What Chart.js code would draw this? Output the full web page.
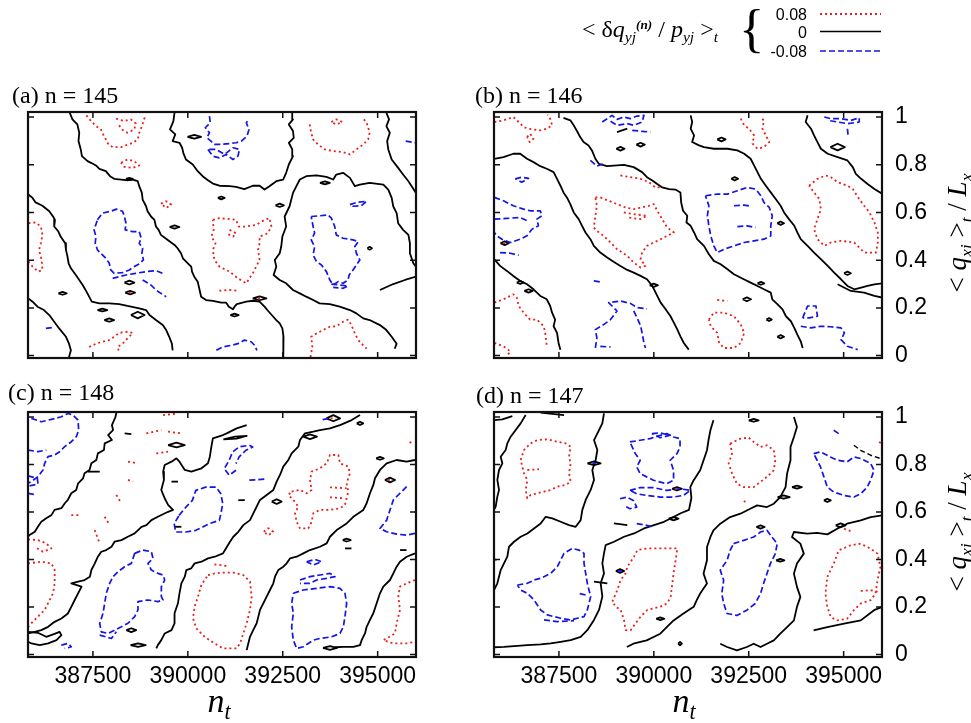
<!DOCTYPE html>
<html>
<head>
<meta charset="utf-8">
<title>contours</title>
<script src="https://cdn.jsdelivr.net/npm/chart.js@4.4.1/dist/chart.umd.min.js"></script>
<style>
html,body{margin:0;padding:0;background:#fff;}
body{position:relative;width:971px;height:723px;overflow:hidden;}
canvas{position:absolute;left:0;top:0;}
.t{position:absolute;white-space:nowrap;line-height:1;color:#000;}
.serif{font-family:"Liberation Serif","Times New Roman",serif;}
.sans{font-family:"Liberation Sans",Arial,sans-serif;}
.sb{font-size:0.65em;position:relative;top:0.32em;}
.sp{font-size:0.55em;position:relative;top:-0.6em;}
.rot{transform:translate(-50%,-50%) rotate(-90deg);}
</style>
</head>
<body>
<canvas id="pa" width="971" height="723"></canvas>
<canvas id="pb" width="971" height="723"></canvas>
<canvas id="pc" width="971" height="723"></canvas>
<canvas id="pd" width="971" height="723"></canvas>

<div class="t serif" style="left:12px;top:83px;font-size:24px">(a) n = 145</div>
<div class="t serif" style="left:475px;top:83px;font-size:24px">(b) n = 146</div>
<div class="t serif" style="left:8px;top:380px;font-size:24px">(c) n = 148</div>
<div class="t serif" style="left:476px;top:383px;font-size:24px">(d) n = 147</div>

<div class="t serif rot" style="left:957px;top:233px;font-size:27px">&lt; <i>q</i><span class="sb"><i>xj</i></span> &gt;<span class="sb"><i>t</i></span> / <i>L</i><span class="sb"><i>x</i></span></div>
<div class="t serif rot" style="left:957px;top:532px;font-size:27px">&lt; <i>q</i><span class="sb"><i>xj</i></span> &gt;<span class="sb"><i>t</i></span> / <i>L</i><span class="sb"><i>x</i></span></div>

<div class="t serif" style="left:219px;top:684px;font-size:34px;transform:translateX(-50%)"><i>n</i><span class="sb"><i>t</i></span></div>
<div class="t serif" style="left:684px;top:684px;font-size:34px;transform:translateX(-50%)"><i>n</i><span class="sb"><i>t</i></span></div>

<div class="t serif" style="left:582px;top:17px;font-size:24px">&lt; δ<i>q</i><span class="sb"><i>yj</i></span><span class="sp"><b><i>(n)</i></b></span> / <i>p</i><span class="sb"><i>yj</i></span> &gt;<span class="sb"><i>t</i></span></div>
<div class="t serif" style="left:739px;top:2px;font-size:53px">{</div>
<div class="t sans" id="lv0" style="right:164px;top:7px;font-size:16px;text-align:right"></div>
<div class="t sans" id="lv1" style="right:164px;top:25px;font-size:16px;text-align:right"></div>
<div class="t sans" id="lv2" style="right:164px;top:44px;font-size:16px;text-align:right"></div>
<svg style="position:absolute;left:820px;top:0px" width="62" height="60">
  <line x1="0" y1="14" x2="61" y2="14" stroke="#e8201c" stroke-width="1.8" stroke-dasharray="2 3"/>
  <line x1="0" y1="31.5" x2="61" y2="31.5" stroke="#000" stroke-width="1.7"/>
  <line x1="0" y1="51" x2="61" y2="51" stroke="#1414e6" stroke-width="1.6" stroke-dasharray="6 3"/>
</svg>

<script>
// ---------------- axis ticks ----------------
const xTicks = [387500, 390000, 392500, 395000];
const yTicks = [0, 0.2, 0.4, 0.6, 0.8, 1];
const levelLabels = ['0.08', '0', '-0.08'];

// ---------------- panel (a) n = 145 ----------------
const a_zero = [
 [[386890,1.018],[386960,.990],[387090,.969],[387140,.934],[387120,.899],[387180,.864],[387210,.836],[387360,.815],[387450,.808],[387580,.797],[387670,.783],[387840,.773],[387950,.752],[388060,.741],[388240,.738],[388410,.735],[388550,.738],[388680,.731],[388720,.710],[388790,.682],[388810,.654],[388900,.626],[388940,.605],[389030,.583],[389120,.569],[389160,.541],[389230,.527],[389290,.506],[389410,.492],[389560,.474],[389650,.464],[389730,.450],[389820,.429],[389870,.408],[390000,.387],[390090,.373],[390110,.352],[390170,.331],[390260,.310],[390310,.275],[390350,.247],[390480,.233],[390660,.229],[390880,.222],[391010,.222],[391080,.205],[391190,.194],[391230,.205],[391290,.216],[391540,.226],[391710,.230],[391890,.226],[392020,.205],[392110,.188],[392240,.165],[392330,.149],[392420,.135],[392490,.114],[392520,.079],[392510,.036],[392520,-.006]],
 [[389650,1.018],[389620,.983],[389530,.948],[389670,.927],[389600,.899],[389780,.892],[389850,.871],[389880,.850],[389950,.822],[390130,.801],[390260,.773],[390390,.752],[390530,.735],[390660,.721],[390830,.712],[391100,.710],[391270,.707],[391490,.698],[391710,.712],[391890,.712],[392020,.696],[392150,.710],[392330,.731],[392510,.738],[392590,.766],[392660,.801],[392770,.836],[392750,.864],[392660,.892],[392790,.913],[392770,.941],[392660,.969],[392770,.990],[392750,1.018]],
 [[385800,.675],[385910,.661],[385990,.642],[386170,.628],[386350,.605],[386450,.583],[386500,.569],[386480,.541],[386590,.520],[386650,.499],[386770,.471],[386790,.443],[386830,.415],[386860,.387],[386920,.366],[387050,.338],[387140,.317],[387230,.296],[387330,.268],[387400,.247],[387470,.226],[387670,.219],[387930,.219],[388190,.216],[388410,.208],[388720,.198],[388900,.191],[388990,.170],[389160,.149],[389340,.128],[389430,.107],[389510,.079],[389580,.050],[389600,.022]],
 [[385800,.240],[385910,.226],[386040,.205],[386210,.191],[386350,.170],[386480,.142],[386610,.114],[386790,.079],[386870,.050],[386920,.022],[386870,-.006]],
 [[396010,.373],[395940,.387],[395850,.429],[395850,.471],[395810,.506],[395670,.527],[395540,.555],[395500,.597],[395410,.626],[395370,.661],[395280,.696],[395150,.717],[394790,.724],[394530,.717],[394400,.710],[394270,.745],[394090,.766],[393910,.759],[393830,.738],[393650,.749],[393390,.755],[393120,.752],[392950,.738],[392860,.710],[392770,.682],[392680,.626],[392550,.583],[392590,.541],[392490,.499],[392460,.457],[392420,.429],[392290,.401],[392330,.373],[392260,.338],[392420,.317],[392590,.303],[392770,.275],[392950,.261],[393120,.247],[393300,.233],[393470,.219],[393740,.216],[394000,.205],[394270,.191],[394440,.177],[394620,.156],[394790,.149],[395060,.128],[395230,.107],[395370,.079],[395500,.050],[395450,.029]],
 [[395230,1.018],[395300,.990],[395230,.962],[395320,.934],[395250,.899],[395280,.864],[395370,.822],[395540,.787],[395670,.759],[395810,.731],[396010,.682]],
 [[395060,.275],[395410,.300],[395720,.317],[396010,.331]],
 [[389990,.917],[390170,.925],[390350,.917],[390170,.909],[389990,.917]],
 [[390790,.661],[390880,.667],[390970,.661],[390880,.655],[390790,.661]],
 [[392310,.630],[392420,.637],[392530,.630],[392420,.623],[392310,.630]],
 [[389520,.539],[389650,.546],[389780,.539],[389650,.532],[389520,.539]],
 [[386590,.261],[386700,.267],[386810,.261],[386700,.255],[386590,.261]],
 [[388350,.264],[388480,.271],[388610,.264],[388480,.257],[388350,.264]],
 [[388330,.306],[388460,.314],[388590,.306],[388460,.298],[388330,.306]],
 [[387620,.191],[387750,.197],[387880,.191],[387750,.185],[387620,.191]],
 [[387800,.149],[387930,.156],[388060,.149],[387930,.142],[387800,.149]],
 [[388500,.170],[388680,.184],[388860,.170],[388680,.156],[388500,.170]],
 [[391710,.240],[391890,.248],[392070,.240],[391890,.232],[391710,.240]],
 [[391120,.170],[391230,.176],[391340,.170],[391230,.164],[391120,.170]],
 [[394730,.450],[394790,.456],[394850,.450],[394790,.444],[394730,.450]],
 [[393480,.724],[393610,.730],[393740,.724],[393610,.718],[393480,.724]],
 [[388370,.741],[388460,.745],[388550,.741],[388460,.737],[388370,.741]]
];
const a_pos = [
 [[387330,1.007],[387450,.983],[387580,.962],[387710,.948],[387770,.927],[387840,.906],[387910,.885],[388020,.874],[388240,.874],[388410,.884],[388550,.892],[388680,.906],[388720,.934],[388790,.962],[388860,.997],[388830,1.007]],
 [[388110,.993],[388330,.983],[388500,.990],[388630,.973],[388590,.948],[388410,.934],[388260,.948],[388190,.965]],
 [[388240,.808],[388410,.822],[388590,.815],[388720,.797],[388550,.787],[388330,.791],[388240,.808]],
 [[385800,.555],[385990,.558],[386130,.541],[386170,.506],[386130,.471],[386080,.443],[386150,.401],[386170,.359],[386060,.352],[385910,.373],[385800,.394]],
 [[390660,.569],[390830,.576],[391100,.572],[391270,.569],[391340,.541],[391540,.541],[391800,.548],[392020,.569],[392150,.576],[392200,.541],[392110,.513],[391890,.499],[391890,.471],[391850,.443],[391890,.401],[391800,.373],[391710,.345],[391540,.303],[391320,.324],[391100,.352],[390830,.373],[390700,.401],[390660,.443],[390730,.471],[390620,.499],[390680,.527],[390660,.569]],
 [[391100,.527],[391270,.513],[391190,.499],[391050,.510]],
 [[393210,.969],[393250,.934],[393300,.906],[393430,.885],[393610,.864],[393830,.857],[394090,.853],[394270,.843],[394440,.864],[394620,.885],[394750,.906],[394790,.934],[394710,.976],[394600,.997]],
 [[393780,.979],[393910,.990],[394070,.979],[393910,.969],[393780,.979]],
 [[393230,-.006],[393280,.036],[393250,.079],[393390,.093],[393560,.107],[393740,.121],[393910,.123],[394090,.142],[394220,.151],[394310,.128],[394400,.093],[394490,.065],[394620,.043],[394710,.029]],
 [[387400,.036],[387580,.050],[387750,.058],[387930,.065],[388060,.079],[388190,.095],[388410,.100],[388550,.095],[388410,.072],[388280,.050],[388150,.036],[388190,.015]],
 [[389290,.637],[389430,.647],[389560,.633],[389430,.619],[389290,.637]],
 [[390830,.272],[391100,.275],[391290,.272]],
 [[388440,.264],[388520,.264]],
 [[391850,.240],[391930,.240]]
];
const a_neg = [
 [[390570,1.004],[390590,.976],[390460,.955],[390570,.934],[390500,.913],[390610,.899],[390700,.885],[390880,.885],[391100,.889],[391270,.892],[391410,.899],[391560,.920],[391610,.948],[391540,.976],[391610,.990]],
 [[390530,.864],[390660,.836],[390830,.829],[391010,.843],[391190,.822],[391320,.836],[391360,.864],[391190,.871],[390970,.843],[390750,.864],[390530,.864]],
 [[387620,.569],[387750,.597],[387970,.605],[388120,.614],[388280,.605],[388330,.583],[388370,.555],[388350,.527],[388530,.520],[388720,.520],[388770,.492],[388720,.471],[388810,.450],[388790,.429],[388830,.401],[388720,.384],[388590,.373],[388460,.359],[388280,.348],[388060,.345],[387970,.359],[387930,.387],[387840,.408],[387750,.422],[387620,.443],[387560,.471],[387580,.499],[387530,.527],[387620,.569]],
 [[388020,.324],[388370,.338],[388630,.345],[388900,.352],[389160,.356],[389340,.345]],
 [[388810,.317],[389030,.296],[389160,.275],[389290,.261],[389430,.247]],
 [[393250,.583],[393470,.586],[393690,.590],[393780,.576],[393870,.541],[393910,.506],[394090,.492],[394350,.485],[394490,.478],[394400,.457],[394440,.429],[394530,.401],[394440,.380],[394350,.359],[394250,.338],[394220,.317],[394090,.303],[393960,.310],[393830,.296],[393740,.317],[393650,.352],[393520,.380],[393390,.394],[393300,.422],[393340,.457],[393250,.485],[393340,.513],[393300,.541],[393250,.583]],
 [[393780,.300],[394000,.296],[394220,.292],[394090,.282],[393830,.286]],
 [[390750,.022],[390920,.036],[391140,.043],[391320,.050],[391490,.065],[391670,.058],[391760,.043],[391820,.022]],
 [[394270,.633],[394440,.642],[394710,.647],[394570,.628],[394350,.626],[394270,.633]],
 [[386260,.114],[386430,.118]],
 [[395740,.899],[396010,.892]]
];

// ---------------- panel (b) n = 146 ----------------
const b_zero = [
 [[387620,.996],[387800,.986],[387890,.965],[387990,.937],[388060,.916],[388150,.895],[388280,.881],[388370,.860],[388460,.825],[388550,.804],[388770,.794],[389210,.799],[389470,.790],[389690,.769],[389820,.748],[389960,.734],[390090,.719],[390220,.705],[390400,.698],[390570,.696],[390700,.684],[390720,.642],[390770,.607],[390880,.586],[390860,.558],[390970,.544],[391060,.516],[391140,.488],[391320,.460],[391450,.425],[391580,.397],[391760,.383],[391940,.362],[392110,.341],[392330,.323],[392550,.306],[392730,.292],[392900,.278],[393080,.264],[393120,.236],[393260,.215],[393390,.194],[393480,.165],[393610,.144],[393700,.116],[393780,.088],[393870,.060],[393920,.032]],
 [[385800,.825],[386040,.832],[386300,.846],[386480,.846],[386660,.825],[386830,.811],[387010,.794],[387180,.783],[387360,.769],[387450,.741],[387540,.712],[387620,.684],[387710,.663],[387800,.635],[387890,.600],[388020,.572],[388110,.544],[388200,.516],[388330,.488],[388420,.460],[388590,.432],[388770,.411],[388940,.393],[389120,.376],[389300,.359],[389470,.348],[389650,.334],[389820,.320],[389960,.292],[390090,.250],[390180,.222],[390310,.194],[390440,.165],[390530,.137],[390620,.109],[390700,.081],[390790,.053],[390920,.025]],
 [[385800,.404],[385950,.376],[386130,.355],[386300,.334],[386480,.313],[386660,.299],[386830,.278],[387010,.250],[387180,.236],[387270,.208],[387320,.180],[387400,.151],[387360,.123],[387450,.095],[387490,.053],[387540,.025]],
 [[390970,1.007],[391010,.979],[390970,.951],[391060,.923],[391010,.895],[391190,.881],[391320,.874],[391580,.867],[391940,.867],[392200,.860],[392380,.846],[392550,.825],[392640,.797],[392730,.769],[392820,.741],[392950,.712],[393080,.684],[393210,.656],[393340,.628],[393430,.600],[393560,.572],[393700,.544],[393780,.516],[393870,.488],[394050,.460],[394220,.432],[394400,.404],[394580,.376],[394750,.348],[394930,.320],[395100,.292],[395280,.278],[395460,.285],[395630,.292],[395810,.299],[396030,.303]],
 [[394050,1.007],[394000,.979],[394140,.951],[394220,.923],[394310,.895],[394400,.867],[394580,.846],[394840,.832],[395100,.818],[395240,.790],[395320,.762],[395460,.741],[395630,.719],[395810,.698],[396030,.677]],
 [[394840,.299],[395190,.271],[395540,.264],[395810,.250],[396030,.243]],
 [[389030,.937],[389300,.951]],
 [[389010,.867],[389120,.875],[389230,.867],[389120,.859],[389010,.867]],
 [[389540,.884],[389650,.892],[389760,.884],[389650,.876],[389540,.884]],
 [[391670,.906],[391780,.914],[391890,.906],[391780,.898],[391670,.906]],
 [[392040,.741],[392130,.748],[392220,.741],[392130,.734],[392040,.741]],
 [[394650,.874],[394840,.888],[395030,.874],[394840,.860],[394650,.874]],
 [[385960,.471],[386070,.479],[386180,.471],[386070,.463],[385960,.471]],
 [[386590,.271],[386700,.278],[386810,.271],[386700,.264],[386590,.271]],
 [[386390,.306],[386480,.312],[386570,.306],[386480,.300],[386390,.306]],
 [[389890,.295],[390000,.302],[390110,.295],[390000,.288],[389890,.295]],
 [[392340,.236],[392450,.244],[392560,.236],[392450,.228],[392340,.236]],
 [[392730,.303],[392820,.309],[392910,.303],[392820,.297],[392730,.303]],
 [[393250,.555],[393340,.562],[393430,.555],[393340,.548],[393250,.555]],
 [[395010,.345],[395100,.352],[395190,.345],[395100,.338],[395010,.345]],
 [[393250,.079],[393340,.086],[393430,.079],[393340,.072],[393250,.079]],
 [[392965,.151],[393035,.157],[393105,.151],[393035,.145],[392965,.151]]
];
const b_pos = [
 [[385800,.979],[386040,.986],[386300,1.000],[386440,.979],[386570,.958],[386700,.951],[387000,.944],[387180,.951],[387320,.965],[387270,.993],[387200,1.010]],
 [[386660,.916],[386740,.930],[386830,.909],[386730,.895],[386660,.916]],
 [[388460,.663],[388590,.663],[388810,.649],[389030,.635],[389250,.621],[389470,.614],[389690,.621],[389870,.628],[390000,.635],[390090,.607],[390220,.572],[390350,.537],[390530,.516],[390350,.502],[390180,.488],[390000,.474],[389820,.460],[389690,.432],[389650,.404],[389780,.376],[389650,.369],[389470,.390],[389300,.418],[389030,.446],[388860,.474],[388680,.502],[388500,.523],[388420,.537],[388460,.586],[388500,.628],[388460,.663]],
 [[389120,.755],[389380,.748],[389650,.741],[389870,.727],[390040,.705],[390180,.705]],
 [[389210,.600],[389470,.593],[389820,.586],[389650,.572],[389300,.579]],
 [[392290,.993],[392380,.965],[392510,.951],[392640,.923],[392600,.888],[392730,.867],[392900,.874],[393040,.895],[392950,.923],[392860,.951],[392900,.986],[392820,.996]],
 [[394090,.712],[394310,.741],[394530,.755],[394660,.748],[394840,.727],[395100,.712],[395240,.698],[395410,.656],[395540,.628],[395680,.600],[395810,.558],[395900,.516],[395900,.474],[395850,.432],[395540,.432],[395280,.474],[394930,.481],[394660,.474],[394490,.460],[394310,.488],[394220,.530],[394310,.572],[394400,.614],[394360,.656],[394220,.684],[394090,.712]],
 [[385800,.222],[386040,.236],[386300,.257],[386390,.243],[386440,.208],[386570,.180],[386740,.151],[386920,.151],[387100,.123],[387140,.095],[387180,.039]],
 [[385800,.053],[386040,.039],[386220,.018],[386130,-.003]],
 [[391450,.151],[391580,.180],[391850,.180],[392110,.165],[392290,.130],[392380,.095],[392290,.053],[392110,.032],[391850,.032],[391720,.053],[391670,.095],[391500,.123],[391450,.151]],
 [[391670,.233],[391940,.229]],
 [[386030,.471],[386110,.471]]
];
const b_neg = [
 [[388640,.979],[388770,.993],[388900,1.007],[389030,.990],[389210,1.000],[389380,.993],[389560,1.004],[389740,1.007],[389690,.979],[389470,.965],[389300,.972],[389030,.965],[388860,.982]],
 [[389430,.944],[389690,.940],[389910,.937]],
 [[388330,.818],[388500,.794],[388680,.804]],
 [[385800,.663],[386040,.649],[386300,.628],[386570,.614],[386740,.607],[387010,.607],[387050,.586],[386920,.572],[386960,.544],[386790,.530],[386660,.502],[386480,.488],[386220,.474],[386000,.488],[385860,.502],[385800,.516]],
 [[385950,.432],[386220,.429],[386440,.421]],
 [[385800,.572],[386130,.575],[386480,.579],[386660,.565]],
 [[386350,.741],[386520,.748],[386700,.743],[386520,.727],[386350,.741]],
 [[391360,.670],[391670,.677],[391940,.677],[392200,.691],[392460,.705],[392680,.698],[392820,.670],[392900,.642],[393040,.621],[393120,.586],[393080,.544],[393080,.502],[392900,.488],[392640,.481],[392380,.474],[392110,.460],[391850,.446],[391670,.432],[391580,.460],[391500,.502],[391450,.544],[391410,.586],[391450,.628],[391360,.670]],
 [[392110,.628],[392380,.631],[392550,.626]],
 [[392200,.541],[392460,.544],[392680,.537]],
 [[388460,.032],[388500,.074],[388460,.109],[388680,.130],[388860,.151],[389030,.187],[388900,.208],[388810,.222],[389120,.229],[389380,.219],[389560,.201],[389820,.196]],
 [[389470,.187],[389560,.158],[389650,.126],[389690,.095],[389740,.053],[389780,.032]],
 [[388590,.039],[388860,.036]],
 [[393870,.123],[394140,.116],[394400,.123],[394660,.121],[394930,.116],[395020,.095],[394930,.067],[395100,.039],[395370,.025]],
 [[393920,.158],[394050,.208],[394270,.208],[394310,.165],[394090,.158],[393920,.158]],
 [[394490,1.000],[394660,.993],[394930,.993],[395190,.986],[395410,.996],[395410,.979],[395100,.972],[394840,.979],[394580,.986]],
 [[395100,.951],[395120,.916]],
 [[388420,.313],[388590,.309]]
];

// ---------------- panel (c) n = 148 ----------------
const c_zero = [
 [[388120,1.020],[388090,.998],[388000,.966],[388030,.945],[387900,.924],[388000,.903],[387810,.889],[387790,.861],[387630,.847],[387590,.819],[387460,.805],[387410,.777],[387280,.763],[387240,.742],[387110,.721],[387060,.693],[386930,.679],[386840,.651],[386760,.637],[386670,.616],[386490,.609],[386410,.588],[386270,.574],[386140,.559],[386050,.538],[385970,.517],[385830,.503],[385790,.496]],
 [[391550,.966],[391286,.952],[391023,.931],[390926,.924],[390660,.910],[390620,.875],[390580,.833],[390530,.805],[390360,.784],[390090,.770],[389920,.777],[389780,.812],[389700,.826],[389570,.812],[389390,.798],[389350,.770],[389370,.735],[389300,.693],[389390,.658],[389480,.630],[389610,.609],[389480,.601],[389210,.580],[389040,.566],[388910,.545],[388780,.538],[388600,.510],[388420,.496],[388250,.482],[388070,.475],[387990,.454],[387850,.440],[387720,.433],[387630,.412],[387550,.384],[387460,.356],[387420,.328],[387280,.314],[387110,.307],[386930,.300],[387200,.286],[387110,.258],[387020,.230],[386930,.201],[386840,.173],[386670,.152],[386490,.138],[386320,.117],[386140,.103],[385970,.096],[385790,.089]],
 [[394535,1.008],[394315,.987],[394008,.966],[393744,.952],[393481,.945],[393305,.938],[393086,.931],[392954,.903],[392910,.875],[392735,.847],[392647,.819],[392515,.791],[392427,.756],[392340,.728],[392252,.693],[392076,.672],[391900,.651],[391813,.623],[391725,.594],[391637,.566],[391462,.545],[391330,.517],[391198,.496],[391110,.475],[390979,.440],[390926,.426],[390710,.412],[390530,.405],[390360,.391],[390180,.384],[390090,.363],[389960,.356],[389920,.328],[389830,.300],[389780,.258],[389740,.216],[389650,.174],[389650,.131],[389570,.103],[389390,.089],[389300,.061],[389210,.040],[389170,.026]],
 [[395983,.819],[395764,.812],[395500,.819],[395237,.805],[395061,.777],[394930,.742],[394886,.714],[394798,.679],[394710,.637],[394622,.609],[394359,.580],[394183,.552],[393920,.524],[393744,.496],[393657,.468],[393481,.454],[393217,.440],[393042,.426],[392866,.412],[392691,.405],[392603,.384],[392515,.370],[392383,.356],[392296,.328],[392252,.300],[392164,.272],[392076,.244],[391988,.216],[391901,.188],[391857,.160],[391813,.132],[391725,.104],[391637,.075],[391593,.047],[391550,.019]],
 [[395983,.426],[395764,.412],[395588,.391],[395500,.370],[395413,.342],[395325,.314],[395149,.286],[395061,.258],[394974,.216],[394886,.174],[394798,.146],[394710,.117],[394666,.089],[394579,.061],[394535,.040],[394359,.033],[394096,.033],[393876,.031]],
 [[385790,.096],[386050,.092],[386270,.075],[386490,.087],[386620,.096],[386670,.082],[386540,.061],[386320,.047],[386100,.040],[385880,.047],[385790,.054]],
 [[390935,.906],[391242,.917],[391550,.920],[391286,.909],[390935,.906]],
 [[389480,.882],[389700,.892],[389920,.882],[389700,.872],[389480,.882]],
 [[387370,.770],[387680,.770]],
 [[389570,.728],[389740,.728]],
 [[389650,.538],[389830,.538]],
 [[388336,.931],[388512,.928]],
 [[388380,.103],[388510,.111],[388640,.103],[388510,.095],[388380,.103]],
 [[388490,.040],[388690,.047],[388890,.040],[388690,.033],[388490,.040]],
 [[393040,.917],[393217,.927],[393400,.917],[393217,.907],[393040,.917]],
 [[394450,.973],[394535,.980],[394620,.973],[394535,.966],[394450,.973]],
 [[393650,.994],[393832,1.008],[394010,.994],[393832,.982],[393650,.994]],
 [[392210,.644],[392340,.654],[392470,.644],[392340,.634],[392210,.644]],
 [[391330,.650],[391500,.650]],
 [[394080,.482],[394183,.488],[394290,.482],[394183,.476],[394080,.482]],
 [[394140,.447],[394310,.447]],
 [[395590,.440],[395760,.440]],
 [[394960,.826],[395061,.832],[395160,.826],[395061,.820],[394960,.826]],
 [[395190,.735],[395325,.745],[395460,.735],[395325,.725],[395190,.735]],
 [[393560,.028],[393744,.036],[393930,.028],[393744,.020],[393560,.028]]
];
const c_pos = [
 [[385790,.485],[386053,.482],[386273,.468],[386405,.447],[386185,.433],[385966,.454]],
 [[385790,.384],[386141,.391],[386405,.384],[386492,.356],[386492,.300],[386449,.258],[386317,.216],[386229,.188],[386053,.160],[385878,.132],[385790,.117]],
 [[390531,.335],[390707,.342],[390926,.345],[391198,.345],[391462,.335],[391637,.307],[391681,.244],[391637,.188],[391549,.132],[391462,.089],[391374,.047],[391286,.026],[391023,.026],[390926,.026],[390707,.047],[390443,.075],[390224,.110],[390136,.153],[390180,.202],[390268,.244],[390356,.293],[390531,.335]],
 [[390700,.380],[390900,.376],[391050,.372]],
 [[392735,.686],[392954,.693],[393130,.679],[393261,.693],[393217,.735],[393261,.770],[393481,.784],[393657,.805],[393744,.840],[393964,.840],[394008,.805],[394227,.791],[394271,.763],[394183,.721],[394227,.686],[394183,.658],[394139,.630],[394008,.616],[393744,.609],[393481,.609],[393305,.595],[393261,.559],[393174,.531],[392954,.531],[392866,.559],[392823,.595],[392910,.623],[392779,.651],[392647,.672],[392735,.686]],
 [[393744,.704],[394183,.700]],
 [[393744,.662],[394096,.658]],
 [[392000,.517],[392120,.532],[392250,.517],[392120,.502],[392000,.517]],
 [[395983,.314],[395764,.300],[395588,.286],[395544,.244],[395588,.188],[395500,.132],[395456,.089],[395237,.068],[395149,.061],[395413,.047],[395764,.047],[395983,.054]],
 [[389346,1.008],[389741,1.015]],
 [[388907,.931],[389302,.945]],
 [[389478,.938],[389829,.931]],
 [[388424,.812],[388687,.805]],
 [[389170,.847],[389478,.854]],
 [[388424,.735],[388556,.728]],
 [[388117,.672],[388248,.637]],
 [[386931,.587],[387195,.587]],
 [[387809,.580],[387941,.545]],
 [[387546,.524],[387678,.468]],
 [[395270,.735],[395380,.735]],
 [[393760,.994],[393900,.994]],
 [[395840,.895],[395930,.888]]
];
const c_neg = [
 [[385878,.994],[386141,.980],[386405,.990],[386668,1.001],[386844,1.015],[386975,1.008],[387107,.987],[387125,.945],[387063,.917],[386931,.896],[386756,.875],[386624,.854],[386492,.840],[386317,.833],[386229,.805],[386185,.777],[386053,.749],[385878,.728],[385790,.721]],
 [[385790,.861],[386053,.854],[386273,.861]],
 [[385790,.752],[386036,.742],[386053,.718],[385790,.709]],
 [[385790,.679],[386010,.672]],
 [[389770,.586],[389950,.621],[390120,.649],[390210,.691],[390470,.705],[390740,.705],[390870,.677],[390920,.635],[390870,.593],[390830,.565],[390560,.551],[390390,.537],[390210,.523],[389950,.516],[389680,.516],[389640,.551],[389770,.586]],
 [[391270,.776],[391090,.755],[390960,.783],[391090,.818],[391180,.853],[391350,.874],[391620,.881],[391710,.874],[391530,.860],[391350,.832],[391270,.804]],
 [[388600,.426],[388819,.440],[389039,.433],[389083,.405],[388951,.384],[389039,.356],[389214,.342],[389346,.335],[389390,.314],[389302,.286],[389302,.244],[389346,.230],[389214,.223],[388951,.230],[388687,.223],[388687,.188],[388600,.160],[388424,.132],[388248,.117],[388073,.103],[387897,.089],[387722,.096],[387678,.131],[387766,.174],[387809,.216],[387853,.258],[387941,.300],[388029,.328],[388161,.349],[388336,.370],[388512,.384],[388600,.426]],
 [[387678,.082],[387985,.068],[388117,.096]],
 [[386668,.040],[386844,.047],[386931,.033],[386756,.026]],
 [[392779,.258],[393042,.272],[393393,.279],[393744,.286],[394008,.279],[394139,.258],[394183,.216],[394139,.160],[394096,.117],[394008,.089],[393788,.075],[393481,.068],[393305,.061],[393042,.033],[392866,.026],[392779,.061],[392735,.117],[392779,.174],[392735,.216],[392779,.258]],
 [[392954,.314],[393217,.328],[393481,.335],[393744,.342],[393876,.328],[393657,.321],[393393,.314],[393217,.300],[392954,.300]],
 [[393130,.391],[393349,.401],[393525,.391],[393305,.377],[393130,.391]],
 [[395764,.707],[395588,.679],[395413,.651],[395325,.609],[395237,.566],[395061,.531],[395237,.517],[395500,.507],[395764,.503],[395983,.510]],
 [[391620,.734],[391840,.736],[392060,.739]],
 [[393550,.989],[393690,.993]]
];

// ---------------- panel (d) n = 147 ----------------
const d_zero = [
 [[386624,1.008],[386492,.973],[386361,.945],[386229,.917],[386141,.889],[386097,.861],[385966,.833],[386010,.805],[385922,.777],[385878,.735],[385922,.693],[385878,.665],[385834,.623],[385790,.609]],
 [[385790,.987],[386010,.990],[386273,1.004]],
 [[387019,1.018],[387634,1.008]],
 [[388687,1.015],[388643,.973],[388556,.945],[388424,.903],[388512,.861],[388468,.819],[388380,.777],[388424,.735],[388336,.693],[388205,.651],[388117,.609],[388073,.566],[387941,.538],[387766,.545],[387546,.559],[387327,.573],[387151,.580],[387019,.552],[386844,.531],[386668,.510],[386492,.496],[386317,.475],[386185,.454],[386141,.412],[386053,.384],[385966,.356],[385878,.300],[385790,.272]],
 [[391570,.986],[391490,.944],[391440,.902],[391400,.860],[391310,.818],[391220,.776],[391050,.734],[390960,.705],[390990,.660],[390926,.609],[390707,.595],[390531,.580],[390268,.559],[390004,.545],[389741,.531],[389478,.510],[389214,.496],[388951,.475],[388731,.461],[388687,.426],[388644,.384],[388687,.342],[388600,.300],[388644,.244],[388556,.188],[388424,.146],[388248,.103],[388073,.075],[387809,.061],[387546,.054],[387283,.047],[387019,.043],[386668,.040],[386317,.036],[386053,.033],[385790,.031]],
 [[393690,1.000],[393770,.958],[393690,.916],[393600,.874],[393600,.818],[393510,.762],[393470,.705],[393330,.663],[393160,.635],[392980,.621],[392720,.628],[392540,.614],[392280,.593],[392010,.579],[391750,.551],[391570,.523],[391490,.495],[391400,.453],[391400,.397],[391310,.341],[391400,.299],[391220,.257],[391130,.229],[391050,.201],[390780,.173],[390520,.144],[390340,.116],[390170,.088],[389810,.060],[389460,.046],[389290,.032]],
 [[396020,.586],[395710,.579],[395450,.565],[395090,.551],[394830,.530],[394570,.506],[394300,.512],[394040,.509],[393690,.516],[393640,.495],[393860,.467],[393950,.425],[393770,.383],[393690,.341],[393770,.285],[393860,.243],[393770,.201],[393690,.144],[393510,.116],[393330,.088],[393160,.060],[392980,.046],[392810,.032],[392630,.046],[392450,.032],[392190,.018],[391930,.032],[391750,.046]],
 [[394210,.102],[394570,.116],[395010,.130],[395450,.144],[395800,.187],[396020,.201]],
 [[389000,.352],[389110,.360],[389220,.352],[389110,.344],[389000,.352]],
 [[390480,.698],[390610,.705],[390740,.698],[390610,.691],[390480,.698]],
 [[390390,.572],[390520,.579],[390650,.572],[390520,.565],[390390,.572]],
 [[393220,.397],[393330,.403],[393440,.397],[393330,.391],[393220,.397]],
 [[392700,.537],[392810,.544],[392920,.537],[392810,.530],[392700,.537]],
 [[394790,.544],[394920,.552],[395050,.544],[394920,.536],[394790,.544]],
 [[390060,.151],[390170,.157],[390280,.151],[390170,.145],[390060,.151]],
 [[390640,.046],[390690,.053],[390740,.046],[390690,.039],[390640,.046]],
 [[393260,.663],[393420,.670],[393580,.663],[393420,.656],[393260,.663]],
 [[394480,.649],[394570,.656],[394660,.649],[394570,.642],[394480,.649]],
 [[392500,.986],[392630,.992],[392760,.986],[392630,.980],[392500,.986]],
 [[393640,.705],[393770,.711],[393900,.705],[393770,.699],[393640,.705]],
 [[388950,.552],[389302,.545]],
 [[388250,.805],[388424,.813],[388600,.805],[388424,.797],[388250,.805]],
 [[388424,.307],[388775,.300]]
];
const d_zeroDashed = [
 [[395270,.881],[395450,.860],[395710,.839],[395970,.825]]
];
const d_pos = [
 [[386492,.819],[386580,.861],[386756,.889],[386931,.903],[387195,.906],[387458,.896],[387678,.889],[387809,.875],[387766,.833],[387809,.805],[387766,.763],[387809,.728],[387678,.714],[387458,.707],[387283,.693],[387107,.686],[386931,.679],[386756,.672],[386668,.658],[386624,.693],[386668,.735],[386580,.763],[386536,.791],[386492,.819]],
 [[386668,.777],[386975,.780]],
 [[392010,.888],[392280,.909],[392500,.913],[392630,.895],[392810,.874],[392980,.881],[393160,.860],[393200,.818],[393160,.776],[392980,.748],[392810,.727],[392630,.705],[392370,.705],[392190,.719],[392060,.762],[391970,.804],[392060,.846],[392010,.888]],
 [[388907,.223],[389039,.272],[389126,.314],[389258,.342],[389302,.370],[389478,.412],[389565,.440],[389829,.447],[390180,.447],[390443,.447],[390619,.447],[390575,.398],[390531,.356],[390487,.300],[390443,.244],[390356,.216],[390180,.202],[390004,.195],[389829,.188],[389653,.160],[389522,.132],[389390,.103],[389258,.103],[389214,.146],[389126,.188],[388995,.202],[388907,.223]],
 [[394570,.327],[394740,.383],[394870,.439],[395180,.460],[395450,.467],[395710,.446],[395890,.425],[395970,.369],[395890,.313],[395840,.257],[395710,.229],[395450,.215],[395270,.187],[395090,.151],[394830,.144],[394660,.158],[394570,.201],[394520,.257],[394570,.327]],
 [[395450,.268],[395710,.271],[395970,.262]],
 [[392370,.647],[392470,.635]],
 [[395010,.530],[395180,.520]],
 [[395930,.895],[396020,.888]],
 [[385810,.401],[385870,.397]],
 [[390560,.698],[390660,.698]]
];
const d_neg = [
 [[389370,.895],[389640,.902],[389900,.909],[390170,.923],[390340,.930],[390520,.916],[390690,.909],[390690,.874],[390610,.846],[390430,.818],[390520,.776],[390520,.734],[390340,.719],[389990,.734],[389810,.748],[389640,.762],[389550,.790],[389640,.818],[389510,.846],[389370,.895]],
 [[389370,.691],[389640,.703],[389990,.703],[390340,.691],[390690,.698],[390960,.691],[390780,.670],[390520,.663],[390170,.663],[389810,.670],[389550,.677],[389370,.691]],
 [[389950,.930],[390170,.933],[390430,.923],[390170,.913],[389950,.930]],
 [[389110,.656],[389290,.663],[389460,.649],[389550,.621],[389370,.614],[389200,.628]],
 [[389550,.551],[389810,.544],[389990,.537]],
 [[394210,.846],[394390,.853],[394650,.832],[394830,.818],[395090,.811],[395270,.832],[395450,.825],[395710,.804],[395800,.776],[395710,.734],[395620,.705],[395450,.677],[395270,.663],[395010,.670],[394740,.684],[394570,.705],[394480,.748],[394390,.790],[394300,.818],[394210,.846]],
 [[394740,.944],[394870,.930]],
 [[386405,.293],[386668,.300],[386844,.314],[387019,.321],[387283,.342],[387458,.370],[387546,.398],[387634,.426],[387853,.447],[388029,.440],[388161,.426],[388161,.384],[388205,.342],[388248,.300],[388336,.244],[388248,.188],[388161,.160],[387985,.153],[387809,.146],[387546,.153],[387370,.160],[387195,.167],[387019,.188],[386844,.230],[386668,.258],[386492,.272],[386405,.293]],
 [[387107,.146],[387458,.139],[387897,.143]],
 [[388050,.257],[388230,.250]],
 [[392100,.467],[392370,.481],[392630,.495],[392810,.516],[392980,.523],[393110,.495],[393250,.467],[393200,.425],[393070,.383],[392980,.341],[392890,.299],[392810,.257],[392670,.215],[392450,.187],[392190,.165],[391930,.173],[391840,.215],[391790,.257],[391840,.313],[391750,.355],[391930,.397],[392010,.439],[392100,.467]],
 [[389060,.352],[389160,.352]],
 [[388380,.805],[388470,.805]]
];

// ---------------- drawing ----------------
document.getElementById('lv0').textContent = levelLabels[0];
document.getElementById('lv1').textContent = levelLabels[1];
document.getElementById('lv2').textContent = levelLabels[2];

const styles = {
  pos:  {borderColor:'#e8201c', borderWidth:1.8, borderDash:[2,3]},
  zero: {borderColor:'#000000', borderWidth:1.8, borderDash:[]},
  zeroDashed: {borderColor:'#000000', borderWidth:1.4, borderDash:[5,3]},
  neg:  {borderColor:'#1414e6', borderWidth:1.7, borderDash:[6,3]}
};
function mk(lines, st) {
  return (lines || []).map(pts => Object.assign({
    data: pts, showLine: true, pointRadius: 0, pointHoverRadius: 0, pointHitRadius: 0,
    fill: false, tension: 0, borderCapStyle: 'butt', borderJoinStyle: 'round'
  }, st));
}

const framePlugin = {
  id: 'frame',
  afterDatasetsDraw(chart) {
    const ctx = chart.ctx, a = chart.chartArea, x = chart.scales.x, y = chart.scales.y;
    ctx.save();
    ctx.strokeStyle = '#111';
    ctx.lineWidth = 1.5;
    ctx.beginPath();
    xTicks.forEach(v => {
      const px = x.getPixelForValue(v);
      ctx.moveTo(px, a.bottom); ctx.lineTo(px, a.bottom - 6);
      ctx.moveTo(px, a.top); ctx.lineTo(px, a.top + 6);
    });
    yTicks.forEach(v => {
      const py = y.getPixelForValue(v);
      ctx.moveTo(a.left, py); ctx.lineTo(a.left + 6, py);
      ctx.moveTo(a.right, py); ctx.lineTo(a.right - 6, py);
    });
    ctx.stroke();
    ctx.lineWidth = 2.2;
    ctx.strokeRect(a.left, a.top, a.right - a.left, a.bottom - a.top);
    ctx.restore();
  }
};

function makePanel(id, pad, showX, showY, zero, pos, neg, zeroDashed) {
  new Chart(document.getElementById(id), {
    type: 'scatter',
    data: { datasets: [].concat(mk(pos, styles.pos), mk(neg, styles.neg), mk(zeroDashed, styles.zeroDashed), mk(zero, styles.zero)) },
    options: {
      responsive: false, animation: false, devicePixelRatio: 1, events: [],
      layout: { padding: pad },
      plugins: { legend: {display: false}, tooltip: {enabled: false}, title: {display: false} },
      scales: {
        x: {
          type: 'linear', position: 'bottom', min: 385790, max: 396010, display: showX,
          grid: {display: false, drawTicks: false}, border: {display: false},
          afterBuildTicks: s => { s.ticks = xTicks.map(v => ({value: v})); },
          afterFit: s => { s.height = showX ? 40 : 0; },
          ticks: { autoSkip: false, maxRotation: 0, minRotation: 0, padding: 6, color: '#000',
                   font: {family: 'Liberation Sans', size: 23}, callback: v => String(v) }
        },
        y: {
          type: 'linear', position: 'right', min: -0.01, max: 1.021, display: showY,
          grid: {display: false, drawTicks: false}, border: {display: false},
          afterBuildTicks: s => { s.ticks = yTicks.map(v => ({value: v})); },
          afterFit: s => { s.width = showY ? 60 : 0; },
          ticks: { padding: 13, color: '#000', font: {family: 'Liberation Sans', size: 23},
                   callback: v => String(v) }
        }
      }
    },
    plugins: [framePlugin]
  });
}

makePanel('pa', {left: 28, top: 112, right: 555, bottom: 365}, false, false, a_zero, a_pos, a_neg);
makePanel('pb', {left: 494, top: 112, right: 29, bottom: 365}, false, true, b_zero, b_pos, b_neg);
makePanel('pc', {left: 28, top: 412, right: 555, bottom: 26}, true, false, c_zero, c_pos, c_neg);
makePanel('pd', {left: 494, top: 412, right: 29, bottom: 26}, true, true, d_zero, d_pos, d_neg, d_zeroDashed);
</script>
</body>
</html>
